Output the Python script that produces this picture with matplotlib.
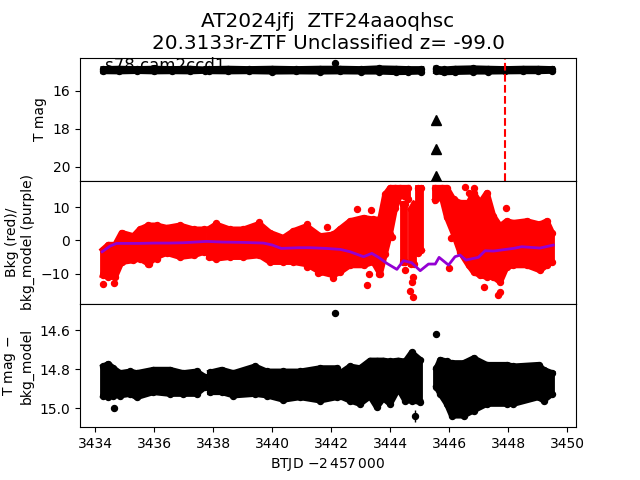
import matplotlib
matplotlib.use('Agg')
import matplotlib.pyplot as plt
import numpy as np

# T mag band, two stretches either side of the data gap
mag_t1 = [3434.27, 3434.8, 3435.4, 3436.0, 3436.6, 3437.2, 3437.72, 3437.86, 3438.5, 3439.2, 3440.0, 3440.8,
          3441.6, 3442.3, 3443.0, 3443.6, 3444.2, 3444.6, 3445.05]
mag_hi1 = [14.86, 14.84, 14.86, 14.84, 14.86, 14.84, 14.88, 14.86, 14.84, 14.86, 14.84, 14.86,
           14.84, 14.84, 14.86, 14.82, 14.84, 14.86, 14.86]
mag_lo1 = [14.98, 14.99, 14.97, 14.99, 14.98, 14.99, 14.96, 14.98, 14.99, 14.98, 15.0, 14.99,
           15.0, 14.99, 15.0, 15.0, 15.03, 15.02, 15.0]
mag_t2 = [3445.55, 3445.8, 3446.2, 3446.8, 3447.3, 3447.9, 3448.5, 3449.0, 3449.48]
mag_hi2 = [14.84, 14.88, 14.84, 14.82, 14.84, 14.86, 14.84, 14.84, 14.86]
mag_lo2 = [14.98, 15.04, 15.02, 15.0, 15.0, 14.99, 14.98, 14.98, 14.96]
mag_out_t = [3442.13, 3445.55]
mag_out = [14.54, 14.79]

# upper limits
lim_t = [3445.53, 3445.53, 3445.53]
lim_mag = [17.56, 19.05, 20.47]

vline_t = 3447.89
sector_label = 's78 cam2ccd1'

# background envelope, one list per stretch
bkg_t1 = [3434.25, 3434.44, 3434.67, 3434.89, 3435.29, 3435.5, 3435.8, 3436.08, 3436.42, 3436.87, 3437.33, 3437.68]
bkg_hi1 = [-2.8, -1.3, -1.3, 2.3, 1.3, 3.3, 4.5, 4.5, 3.8, 4.5, 3.3, 3.3]
bkg_lo1 = [-10.5, -11, -11, -6.5, -6, -5.5, -7, -5, -3.8, -5, -4.5, -3.5]

bkg_t2 = [3437.86, 3438.09, 3438.56, 3439.02, 3439.56, 3439.92, 3440.37, 3440.71, 3441.16, 3441.62, 3442.07,
          3442.3, 3442.63, 3443.09, 3443.42, 3443.65, 3443.82, 3443.99, 3444.16, 3444.33, 3444.58]
bkg_hi2 = [3.5, 4.8, 3.3, 3.3, 5, 2.3, 0.8, 2.8, 4.3, 1.3, 1.8,
           3.5, 5.8, 6.8, 6.3, 6.3, 13.8, 15.8, 15.8, 15.8, 15.8]
bkg_lo2 = [-5, -5.5, -5, -5, -4.5, -6.5, -6.5, -6.5, -7.2, -9.5, -10.5,
           -9.5, -7.5, -7.5, -6.5, -10, -4, 2, 9.6, 13.6, 12.5]

bkg_t3 = [3444.42, 3444.5]
bkg_hi3 = [10.8, 10.8]
bkg_lo3 = [-6.5, -6.5]
bkg_t4 = [3444.7, 3444.8]
bkg_hi4 = [9.5, 11]
bkg_lo4 = [-7, -7]
bkg_t5 = [3444.95, 3445.05]
bkg_hi5 = [15.8, 15.8]
bkg_lo5 = [-3.8, -3]

bkg_t6 = [3445.52, 3445.74, 3445.91, 3446.14, 3446.36, 3446.65, 3446.82, 3447.04, 3447.27, 3447.49, 3447.72,
          3447.94, 3448.17, 3448.62, 3449.07, 3449.3, 3449.48]
bkg_hi6 = [15.8, 15.8, 15.8, 12.3, 11.3, 11.3, 14.3, 11.3, 14.3, 7.3, 4.3, 5.8, 5.3, 5.8, 4.8, 5.8, 2.3]
bkg_lo6 = [12, 13, 7, 2, -3.5, -7.5, -9.5, -10.5, -11, -11, -12.5, -8, -7.5, -7.5, -9, -7.5, -6.5]

bkg_out_t = [3434.27, 3434.64, 3436.1, 3435.82, 3438.09, 3439.56, 3441.19, 3441.84, 3442.07, 3441.53, 3441.19,
             3442.88, 3443.33, 3447.93, 3447.18, 3447.63, 3447.7, 3444.07, 3446.06, 3446.0, 3443.29, 3443.22,
             3443.6, 3444.48, 3444.67, 3444.78, 3444.75, 3444.72, 3446.54, 3446.85, 3446.67]
bkg_out = [-13.2, -12.9, -5.7, -7.1, 5.2, 5.5, 4.9, 4, -11.4, -9.9, -8.1,
           9.4, 9.2, 9.7, -14.1, -16.4, -15.4, 1, 0.6, -8.4, -10.2, -13.5,
           -10.2, -8.9, -15.3, -17, -11, -12.5, 16, 15.8, 14.3]

model_t = [3434.23, 3434.5, 3434.72, 3435.0, 3435.5, 3436.0, 3436.5, 3437.0, 3437.77, 3438.3, 3439.0, 3439.7,
           3440.0, 3440.3, 3440.9, 3441.3, 3441.8, 3442.3, 3442.63, 3443.09, 3443.37, 3443.6, 3443.88,
           3444.22, 3444.44, 3444.72, 3445.01, 3445.29, 3445.52, 3445.65, 3445.97, 3446.19, 3446.36, 3446.56,
           3446.98, 3447.21, 3447.49, 3448.17, 3448.45, 3449.07, 3449.52]
model = [-3.4, -1.7, -0.9, -0.9, -0.9, -0.8, -0.8, -0.7, -0.3, -0.5, -0.6, -0.8,
         -1.4, -2.4, -2.2, -2.2, -2.4, -2.7, -3.4, -4.9, -3.9, -5.1, -6.9,
         -8.7, -6.1, -6.7, -9.1, -7.1, -7.1, -5.1, -7.4, -4.9, -4.4, -5.9,
         -5.1, -3.1, -3.2, -2.4, -1.9, -2.3, -1.4]

# T mag minus model
res_t1 = [3434.27, 3434.44, 3434.61, 3434.84, 3435.18, 3435.4, 3435.97, 3436.53, 3436.98, 3437.43, 3437.72]
res_hi1 = [14.786, 14.773, 14.795, 14.82, 14.812, 14.82, 14.803, 14.803, 14.82, 14.812, 14.84]
res_lo1 = [14.935, 14.944, 14.935, 14.935, 14.927, 14.944, 14.918, 14.927, 14.927, 14.927, 14.892]
res_t2 = [3437.89, 3438.28, 3438.68, 3439.41, 3439.81, 3440.37, 3440.94, 3441.62, 3442.18, 3442.3, 3442.63,
          3442.97, 3443.31, 3443.54, 3443.76, 3443.99, 3444.27, 3444.5, 3444.72, 3445.01]
res_hi2 = [14.817, 14.803, 14.82, 14.786, 14.812, 14.812, 14.812, 14.795, 14.795, 14.82, 14.786,
           14.795, 14.756, 14.756, 14.756, 14.761, 14.756, 14.761, 14.715, 14.752]
res_lo2 = [14.918, 14.918, 14.935, 14.927, 14.935, 14.957, 14.944, 14.961, 14.944, 14.94, 14.961,
           14.978, 14.94, 14.995, 14.95, 14.978, 14.9, 14.961, 14.961, 14.968]
res_t3 = [3445.56, 3445.69, 3445.91, 3446.08, 3446.48, 3446.82, 3447.27, 3447.95, 3448.17, 3449.02, 3449.19, 3449.48]
res_hi3 = [14.795, 14.752, 14.761, 14.769, 14.769, 14.744, 14.778, 14.778, 14.786, 14.778, 14.803, 14.82]
res_lo3 = [14.892, 14.927, 14.978, 15.038, 15.038, 15.012, 14.978, 14.978, 14.978, 14.944, 14.961, 14.927]
res_out_t = [3434.64, 3442.13, 3445.53, 3444.82]
res_out = [15.0, 14.511, 14.62, 15.04]
res_out_err = [0.006, 0.006, 0.015, 0.03]


def band(ax, t, hi, lo, col):
    # envelope of the point cloud, dots on the edges keep it lumpy
    ax.fill_between(t, lo, hi, color=col, lw=0)
    ax.plot(t, hi, color=col, lw=4.2)
    ax.plot(t, lo, color=col, lw=4.2)
    ax.plot(t, hi, 'o', color=col, ms=4.3)
    ax.plot(t, lo, 'o', color=col, ms=4.3)
    ax.vlines(t, lo, hi, color=col, lw=4.2)


fig, (ax1, ax2, ax3) = plt.subplots(3, 1, sharex=True)
fig.subplots_adjust(hspace=0)

band(ax1, mag_t1, mag_hi1, mag_lo1, 'k')
band(ax1, mag_t2, mag_hi2, mag_lo2, 'k')
ax1.plot(mag_out_t, mag_out, 'ko', ms=4.3)
ax1.plot(lim_t, lim_mag, 'k^', ms=6.5)
ax1.axvline(vline_t, color='r', ls='--', lw=1.5)
ax1.text(3434.33, 14.95, sector_label, fontsize=12, zorder=0.5)
ax1.set_ylim(20.74, 14.26)
ax1.set_yticks([16, 18, 20])
ax1.set_ylabel('T mag')
ax1.set_title('AT2024jfj  ZTF24aaoqhsc\n20.3133r-ZTF Unclassified z= -99.0', fontsize=14.4)

band(ax2, bkg_t1, bkg_hi1, bkg_lo1, 'r')
band(ax2, bkg_t2, bkg_hi2, bkg_lo2, 'r')
band(ax2, bkg_t3, bkg_hi3, bkg_lo3, 'r')
band(ax2, bkg_t4, bkg_hi4, bkg_lo4, 'r')
band(ax2, bkg_t5, bkg_hi5, bkg_lo5, 'r')
band(ax2, bkg_t6, bkg_hi6, bkg_lo6, 'r')
ax2.plot(bkg_out_t, bkg_out, 'ro', ms=4.3)
ax2.plot(model_t, model, color='darkviolet', lw=2, zorder=5)
ax2.set_ylim(-19.1, 17.9)
ax2.set_yticks([-10, 0, 10])
ax2.set_ylabel('Bkg (red)/\nbkg_model (purple)')

band(ax3, res_t1, res_hi1, res_lo1, 'k')
band(ax3, res_t2, res_hi2, res_lo2, 'k')
band(ax3, res_t3, res_hi3, res_lo3, 'k')
ax3.errorbar(res_out_t, res_out, yerr=res_out_err, fmt='ko', ms=4.3, lw=1)
ax3.set_ylim(15.097, 14.467)
ax3.set_yticks([14.6, 14.8, 15.0])
ax3.set_ylabel('T mag $-$\nbkg_model')
ax3.set_xlim(3433.48, 3450.29)
ax3.set_xticks(np.arange(3434, 3451, 2))
ax3.set_xlabel(r'BTJD $-2\,457\,000$')

fig.savefig('out.png', dpi=100)
